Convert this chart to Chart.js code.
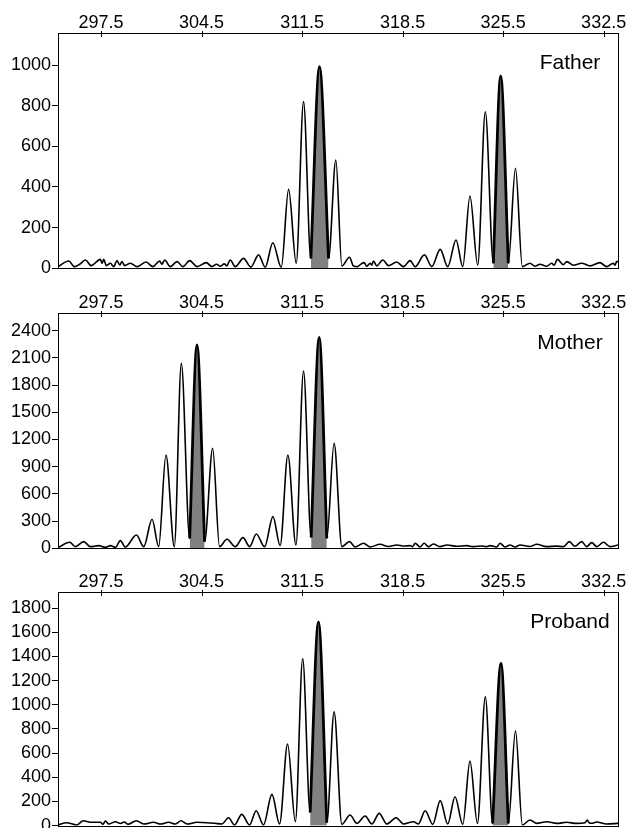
<!DOCTYPE html>
<html>
<head>
<meta charset="utf-8">
<script src="https://cdn.jsdelivr.net/npm/chart.js@4.4.1/dist/chart.umd.min.js"></script>
<style>
  html, body { margin: 0; padding: 0; background: #fff; overflow: hidden; }
  body { width: 627px; height: 828px; position: relative; }
  canvas { position: absolute; left: 0; }
</style>
</head>
<body>
<canvas id="father" width="627" height="280" style="top:0px"></canvas>
<canvas id="mother" width="627" height="280" style="top:280px"></canvas>
<canvas id="proband" width="627" height="280" style="top:560px"></canvas>
<script>
// fragment size (bp) tick labels along the top of every panel
const sizeTicks = [297.5, 304.5, 311.5, 318.5, 325.5, 332.5];

// Father trace: size (bp) and signal (RFU), peaks and troughs
const fatherSize = [294.5, 295.25, 295.64, 296.01, 296.41, 296.8, 297.45, 297.57, 297.68, 297.87,
  298.15, 298.38, 298.61, 298.8, 298.96, 299.14, 299.54, 300.0, 300.63, 301.11,
  301.58, 301.74, 301.93, 302.32, 302.79, 303.2, 303.67, 304.18, 304.83, 305.22,
  305.55, 305.8, 306.08, 306.25, 306.5, 306.84, 307.42, 307.93, 308.47, 308.93,
  309.46, 310.05, 310.56, 311.09, 311.6, 312.11, 312.71, 313.34, 313.85, 314.27,
  314.8, 315.08, 315.35, 315.55, 315.82, 316.0, 316.24, 316.35, 316.47, 316.7,
  317.12, 317.51, 318.09, 318.56, 319.02, 319.37, 320.02, 320.53, 321.12, 321.64,
  322.22, 322.69, 323.19, 323.73, 324.26, 324.82, 325.33, 325.86, 326.36, 326.84,
  327.37, 327.72, 328.07, 328.53, 328.88, 329.05, 329.28, 329.69, 329.93, 330.39,
  330.97, 331.55, 332.24, 332.71, 333.17, 333.3, 333.4, 333.5];
const fatherRfu = [8, 36, 8, 20, 41, 13, 44, 25, 44, 13,
  25, 8, 38, 16, 33, 13, 25, 8, 31, 8,
  36, 20, 41, 8, 33, 8, 38, 8, 28, 8,
  20, 10, 22, 12, 41, 8, 49, 6, 66, 5,
  126, 5, 388, 25, 820, 49, 992, 49, 533, 11,
  54, 11, 8, 18, 28, 10, 25, 15, 36, 12,
  41, 13, 31, 8, 38, 8, 66, 8, 93, 8,
  139, 8, 356, 16, 770, 25, 946, 25, 492, 8,
  25, 10, 20, 10, 25, 15, 44, 18, 33, 15,
  25, 12, 28, 8, 25, 15, 33, 33];
const fatherAlleles = [[312.11, 313.34], [324.82, 325.86]];
const fatherTicks = [0, 200, 400, 600, 800, 1000];

// Mother trace
const motherSize = [294.5, 295.32, 295.71, 296.29, 296.75, 297.33, 297.8, 298.15, 298.5, 298.84,
  299.19, 299.96, 300.47, 301.05, 301.51, 302.02, 302.6, 303.09, 303.67, 304.18,
  304.71, 305.27, 305.75, 306.27, 306.85, 307.38, 307.85, 308.31, 308.89, 309.47,
  309.97, 310.51, 311.07, 311.6, 312.13, 312.69, 313.22, 313.73, 314.27, 314.8,
  315.19, 315.78, 316.24, 316.93, 317.51, 318.09, 318.6, 319.02, 319.2, 319.37,
  319.72, 320.0, 320.3, 320.64, 321.1, 321.58, 322.27, 322.97, 323.43, 324.01,
  324.3, 324.59, 325.05, 325.29, 325.63, 325.98, 326.33, 326.68, 327.37, 327.84,
  328.53, 329.23, 329.69, 330.11, 330.5, 330.97, 331.32, 331.67, 332.02, 332.49,
  332.95, 333.5];
const motherRfu = [7, 66, 18, 74, 18, 29, 10, 29, 10, 85,
  15, 147, 18, 320, 18, 1029, 18, 2040, 110, 2243,
  74, 1103, 18, 99, 18, 118, 18, 158, 18, 349,
  29, 1029, 37, 1955, 120, 2327, 110, 1158, 18, 74,
  15, 55, 15, 44, 20, 37, 25, 29, 18, 55,
  15, 55, 18, 48, 18, 37, 22, 29, 18, 26,
  18, 29, 15, 55, 15, 37, 15, 37, 20, 44,
  18, 24, 18, 74, 22, 74, 18, 63, 18, 66,
  18, 37];
const motherAlleles = [[303.67, 304.71], [312.13, 313.22]];
const motherTicks = [0, 300, 600, 900, 1200, 1500, 1800, 2100, 2400];

// Proband trace
const probandSize = [294.5, 295.1, 295.8, 296.26, 296.75, 297.45, 297.63, 297.8, 298.03, 298.5,
  298.84, 299.12, 299.37, 299.96, 300.47, 301.16, 301.63, 302.21, 302.68, 303.07,
  303.49, 304.18, 304.87, 305.4, 305.91, 306.38, 306.79, 307.3, 307.84, 308.3,
  308.81, 309.4, 309.93, 310.49, 311.03, 311.54, 312.06, 312.64, 313.22, 313.73,
  314.27, 314.84, 315.31, 315.89, 316.36, 316.87, 317.4, 318.05, 318.56, 319.26,
  319.6, 320.07, 320.6, 321.12, 321.64, 322.15, 322.69, 323.19, 323.71, 324.26,
  324.77, 325.35, 325.86, 326.36, 326.84, 327.37, 327.84, 328.53, 329.23, 329.93,
  330.62, 331.2, 331.36, 331.5, 331.67, 332.0, 332.71, 333.5];
const probandRfu = [6, 25, 6, 41, 28, 28, 11, 39, 14, 33,
  18, 30, 12, 41, 14, 28, 14, 28, 14, 41,
  14, 28, 25, 20, 14, 66, 6, 94, 6, 124,
  6, 259, 14, 675, 33, 1383, 110, 1686, 25, 942,
  11, 88, 19, 80, 14, 102, 14, 66, 14, 33,
  14, 124, 11, 207, 14, 240, 11, 534, 19, 1066,
  19, 1342, 19, 785, 6, 47, 19, 33, 19, 28,
  19, 25, 47, 22, 20, 30, 14, 19];
const probandAlleles = [[312.06, 313.22], [324.77, 325.86]];
const probandTicks = [0, 200, 400, 600, 800, 1000, 1200, 1400, 1600, 1800];

const FONT = '"Liberation Sans", Arial, Helvetica, sans-serif';

// box round the plot, tick marks across the top axis, and the panel name
const framePlugin = {
  id: 'frame',
  afterDraw(chart, args, opts) {
    const { ctx, chartArea: a } = chart;
    const x = chart.scales.x;
    ctx.save();
    ctx.strokeStyle = '#000';
    ctx.lineWidth = 1;
    const l = Math.round(a.left) + 0.5, t = Math.round(a.top) + 0.5;
    ctx.strokeRect(l, t, Math.round(a.right) - Math.round(a.left), Math.round(a.bottom) - Math.round(a.top));
    ctx.beginPath();
    sizeTicks.forEach(v => {
      const px = Math.round(x.getPixelForValue(v)) + 0.5;
      ctx.moveTo(px, t - 2.5);
      ctx.lineTo(px, t + 3.5);
    });
    ctx.stroke();
    ctx.fillStyle = '#000';
    ctx.font = '21px ' + FONT;
    ctx.textAlign = 'center';
    ctx.textBaseline = 'middle';
    ctx.fillText(opts.name, a.right - 48, a.top + 30);
    ctx.restore();
  }
};

function makePanel(id, name, size, rfu, alleles, yTicks, yMax, axisH, padBottom) {
  const trace = size.map((s, i) => ({ x: s, y: rfu[i] }));
  const alleleSets = alleles.map(([lo, hi]) => ({
    data: trace.filter(p => p.x >= lo && p.x <= hi),
    borderColor: '#000',
    borderWidth: 2.8,
    backgroundColor: '#808080',
    fill: 'origin',
    pointRadius: 0,
    cubicInterpolationMode: 'monotone'
  }));
  new Chart(document.getElementById(id), {
    type: 'line',
    data: {
      datasets: [...alleleSets, {
        data: trace,
        borderColor: '#000',
        borderWidth: 1.6,
        fill: false,
        pointRadius: 0,
        cubicInterpolationMode: 'monotone'
      }]
    },
    options: {
      responsive: false,
      animation: false,
      layout: { padding: { top: 0, right: 9, bottom: padBottom, left: 0 } },
      plugins: { legend: { display: false }, tooltip: { enabled: false }, frame: { name } },
      scales: {
        x: {
          type: 'linear', position: 'top', min: 294.5, max: 333.5,
          afterBuildTicks: s => { s.ticks = sizeTicks.map(v => ({ value: v })); },
          afterFit: s => { s.height = axisH; s.paddingLeft = 0; s.paddingRight = 0; },
          ticks: { font: { family: FONT, size: 18 }, color: '#000', padding: -1, maxRotation: 0,
                   callback: v => v.toFixed(1) },
          grid: { drawOnChartArea: false, drawTicks: false },
          border: { display: false }
        },
        y: {
          min: 0, max: yMax,
          afterBuildTicks: s => { s.ticks = yTicks.map(v => ({ value: v })); },
          afterFit: s => { s.width = 58; s.paddingTop = 0; s.paddingBottom = 0; },
          ticks: { font: { family: FONT, size: 18 }, color: '#000', padding: 1,
                   callback: v => String(v) },
          grid: { drawOnChartArea: false, drawTicks: true, tickLength: 6, color: '#000' },
          border: { display: false }
        }
      }
    },
    plugins: [framePlugin]
  });
}

makePanel('father', 'Father', fatherSize, fatherRfu, fatherAlleles, fatherTicks, 1156, 33.3, 11.7);
makePanel('mother', 'Mother', motherSize, motherRfu, motherAlleles, motherTicks, 2592, 33.3, 11.7);
makePanel('proband', 'Proband', probandSize, probandRfu, probandAlleles, probandTicks, 1930, 32.3, 14.3);
</script>
</body>
</html>
